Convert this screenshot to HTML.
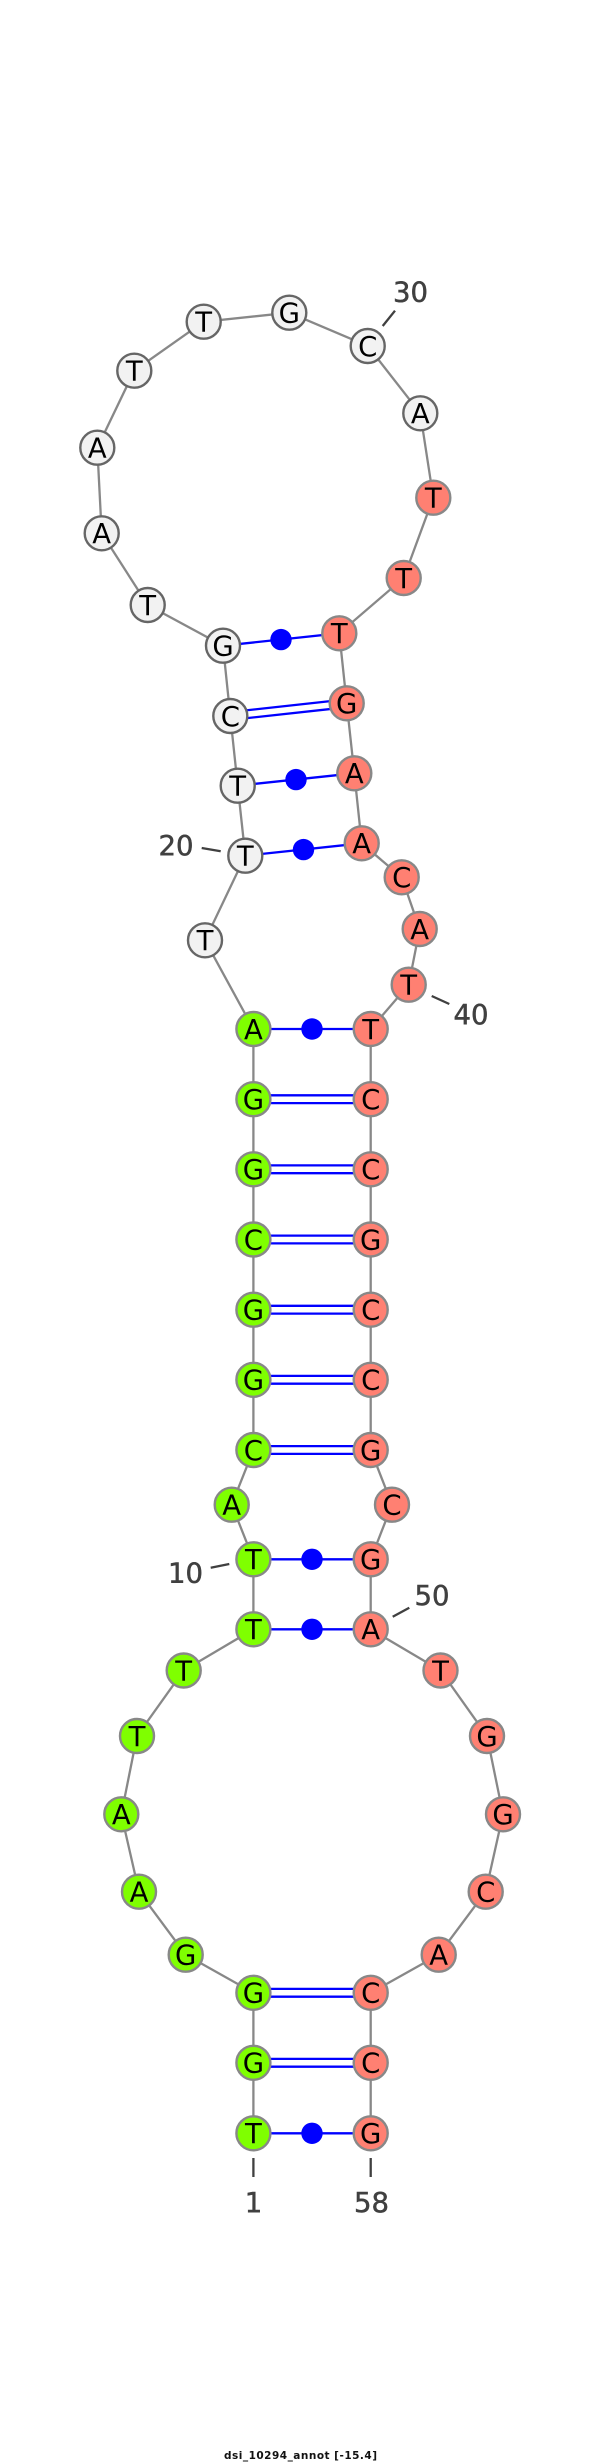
<!DOCTYPE html>
<html><head><meta charset="utf-8"><style>
html,body{margin:0;padding:0;background:#fff}
svg{display:block}
.n text{font-family:"DejaVu Sans",sans-serif;font-size:27.5px;text-anchor:middle;fill:#000;transform:translateY(1.5px)}
.l{font-family:"DejaVu Sans",sans-serif;font-size:27.5px;fill:#404040;stroke:#404040;stroke-width:.5px}
circle.w{fill:#f2f2f2;stroke:#666;stroke-width:2.4}
circle.g{fill:#7fff00;stroke:#888;stroke-width:2.4}
circle.r{fill:#ff8072;stroke:#888;stroke-width:2.4}
</style></head><body>
<svg xmlns="http://www.w3.org/2000/svg" width="600" height="2464" viewBox="0 0 600 2464">
<rect width="600" height="2464" fill="#fff"/>
<polyline fill="none" stroke="#888" stroke-width="2.3" points="253.4,2133.3 253.4,2062.8 253.4,1992.8 185.7,1954.7 139,1891.7 121.3,1814.3 137,1736 183.7,1670.5 253.4,1629.3 253.4,1559.3 231.7,1504.7 253.4,1450 253.4,1379.8 253.4,1309.7 253.4,1239.5 253.4,1169.3 253.4,1099.2 253.4,1029 205,940.3 245.3,855.7 237.7,785.7 230.3,716 223,645.7 147.7,605 101.7,533.3 97.3,447.7 134.3,370.7 203.7,321.7 289.3,312.7 367.7,346 420.3,413.3 433.3,497.7 403.7,578 339.3,633.3 346.7,703.3 354.3,773.3 361.7,843.3 401.7,877.3 419.7,929 408.7,984.7 370.7,1029 370.7,1099.2 370.7,1169.3 370.7,1239.5 370.7,1309.7 370.7,1379.8 370.7,1450 392,1504.7 370.7,1559.3 370.7,1629.3 440.5,1670.5 487,1736 503,1814.3 485.7,1891.7 438.7,1954.7 370.7,1992.8 370.7,2062.8 370.7,2133.3"/>
<g stroke="#0000ff" stroke-width="2.3" fill="none">
<line x1="253.4" y1="2133.3" x2="370.7" y2="2133.3"/>
<line x1="253.4" y1="2058.9" x2="370.7" y2="2058.9"/><line x1="253.4" y1="2066.7" x2="370.7" y2="2066.7"/>
<line x1="253.4" y1="1988.9" x2="370.7" y2="1988.9"/><line x1="253.4" y1="1996.7" x2="370.7" y2="1996.7"/>
<line x1="253.4" y1="1629.3" x2="370.7" y2="1629.3"/>
<line x1="253.4" y1="1559.3" x2="370.7" y2="1559.3"/>
<line x1="253.4" y1="1446.1" x2="370.7" y2="1446.1"/><line x1="253.4" y1="1453.9" x2="370.7" y2="1453.9"/>
<line x1="253.4" y1="1375.9" x2="370.7" y2="1375.9"/><line x1="253.4" y1="1383.7" x2="370.7" y2="1383.7"/>
<line x1="253.4" y1="1305.8" x2="370.7" y2="1305.8"/><line x1="253.4" y1="1313.6" x2="370.7" y2="1313.6"/>
<line x1="253.4" y1="1235.6" x2="370.7" y2="1235.6"/><line x1="253.4" y1="1243.4" x2="370.7" y2="1243.4"/>
<line x1="253.4" y1="1165.4" x2="370.7" y2="1165.4"/><line x1="253.4" y1="1173.2" x2="370.7" y2="1173.2"/>
<line x1="253.4" y1="1095.3" x2="370.7" y2="1095.3"/><line x1="253.4" y1="1103.1" x2="370.7" y2="1103.1"/>
<line x1="253.4" y1="1029" x2="370.7" y2="1029"/>
<line x1="245.3" y1="855.7" x2="361.7" y2="843.3"/>
<line x1="237.7" y1="785.7" x2="354.3" y2="773.3"/>
<line x1="229.9" y1="712.1" x2="346.3" y2="699.4"/><line x1="230.7" y1="719.9" x2="347.1" y2="707.2"/>
<line x1="223" y1="645.7" x2="339.3" y2="633.3"/>
</g>
<g fill="#0000ff">
<circle cx="312" cy="2133.3" r="10.7"/><circle cx="312" cy="1629.3" r="10.7"/><circle cx="312" cy="1559.3" r="10.7"/><circle cx="312" cy="1029" r="10.7"/><circle cx="303.5" cy="849.6" r="10.7"/><circle cx="296" cy="779.6" r="10.7"/><circle cx="281" cy="639.6" r="10.7"/>
</g>
<g class="n">
<circle class="g" cx="253.4" cy="2133.3" r="17"/><text x="253.4" y="2141.6">T</text>
<circle class="g" cx="253.4" cy="2062.8" r="17"/><text x="253.4" y="2071.1">G</text>
<circle class="g" cx="253.4" cy="1992.8" r="17"/><text x="253.4" y="2001.1">G</text>
<circle class="g" cx="185.7" cy="1954.7" r="17"/><text x="185.7" y="1963">G</text>
<circle class="g" cx="139" cy="1891.7" r="17"/><text x="139" y="1900">A</text>
<circle class="g" cx="121.3" cy="1814.3" r="17"/><text x="121.3" y="1822.6">A</text>
<circle class="g" cx="137" cy="1736" r="17"/><text x="137" y="1744.3">T</text>
<circle class="g" cx="183.7" cy="1670.5" r="17"/><text x="183.7" y="1678.8">T</text>
<circle class="g" cx="253.4" cy="1629.3" r="17"/><text x="253.4" y="1637.6">T</text>
<circle class="g" cx="253.4" cy="1559.3" r="17"/><text x="253.4" y="1567.6">T</text>
<circle class="g" cx="231.7" cy="1504.7" r="17"/><text x="231.7" y="1513">A</text>
<circle class="g" cx="253.4" cy="1450" r="17"/><text x="253.4" y="1458.3">C</text>
<circle class="g" cx="253.4" cy="1379.8" r="17"/><text x="253.4" y="1388.1">G</text>
<circle class="g" cx="253.4" cy="1309.7" r="17"/><text x="253.4" y="1318">G</text>
<circle class="g" cx="253.4" cy="1239.5" r="17"/><text x="253.4" y="1247.8">C</text>
<circle class="g" cx="253.4" cy="1169.3" r="17"/><text x="253.4" y="1177.6">G</text>
<circle class="g" cx="253.4" cy="1099.2" r="17"/><text x="253.4" y="1107.5">G</text>
<circle class="g" cx="253.4" cy="1029" r="17"/><text x="253.4" y="1037.3">A</text>
<circle class="w" cx="205" cy="940.3" r="17"/><text x="205" y="948.6">T</text>
<circle class="w" cx="245.3" cy="855.7" r="17"/><text x="245.3" y="864">T</text>
<circle class="w" cx="237.7" cy="785.7" r="17"/><text x="237.7" y="794">T</text>
<circle class="w" cx="230.3" cy="716" r="17"/><text x="230.3" y="724.3">C</text>
<circle class="w" cx="223" cy="645.7" r="17"/><text x="223" y="654">G</text>
<circle class="w" cx="147.7" cy="605" r="17"/><text x="147.7" y="613.3">T</text>
<circle class="w" cx="101.7" cy="533.3" r="17"/><text x="101.7" y="541.6">A</text>
<circle class="w" cx="97.3" cy="447.7" r="17"/><text x="97.3" y="456">A</text>
<circle class="w" cx="134.3" cy="370.7" r="17"/><text x="134.3" y="379">T</text>
<circle class="w" cx="203.7" cy="321.7" r="17"/><text x="203.7" y="330">T</text>
<circle class="w" cx="289.3" cy="312.7" r="17"/><text x="289.3" y="321">G</text>
<circle class="w" cx="367.7" cy="346" r="17"/><text x="367.7" y="354.3">C</text>
<circle class="w" cx="420.3" cy="413.3" r="17"/><text x="420.3" y="421.6">A</text>
<circle class="r" cx="433.3" cy="497.7" r="17"/><text x="433.3" y="506">T</text>
<circle class="r" cx="403.7" cy="578" r="17"/><text x="403.7" y="586.3">T</text>
<circle class="r" cx="339.3" cy="633.3" r="17"/><text x="339.3" y="641.6">T</text>
<circle class="r" cx="346.7" cy="703.3" r="17"/><text x="346.7" y="711.6">G</text>
<circle class="r" cx="354.3" cy="773.3" r="17"/><text x="354.3" y="781.6">A</text>
<circle class="r" cx="361.7" cy="843.3" r="17"/><text x="361.7" y="851.6">A</text>
<circle class="r" cx="401.7" cy="877.3" r="17"/><text x="401.7" y="885.6">C</text>
<circle class="r" cx="419.7" cy="929" r="17"/><text x="419.7" y="937.3">A</text>
<circle class="r" cx="408.7" cy="984.7" r="17"/><text x="408.7" y="993">T</text>
<circle class="r" cx="370.7" cy="1029" r="17"/><text x="370.7" y="1037.3">T</text>
<circle class="r" cx="370.7" cy="1099.2" r="17"/><text x="370.7" y="1107.5">C</text>
<circle class="r" cx="370.7" cy="1169.3" r="17"/><text x="370.7" y="1177.6">C</text>
<circle class="r" cx="370.7" cy="1239.5" r="17"/><text x="370.7" y="1247.8">G</text>
<circle class="r" cx="370.7" cy="1309.7" r="17"/><text x="370.7" y="1318">C</text>
<circle class="r" cx="370.7" cy="1379.8" r="17"/><text x="370.7" y="1388.1">C</text>
<circle class="r" cx="370.7" cy="1450" r="17"/><text x="370.7" y="1458.3">G</text>
<circle class="r" cx="392" cy="1504.7" r="17"/><text x="392" y="1513">C</text>
<circle class="r" cx="370.7" cy="1559.3" r="17"/><text x="370.7" y="1567.6">G</text>
<circle class="r" cx="370.7" cy="1629.3" r="17"/><text x="370.7" y="1637.6">A</text>
<circle class="r" cx="440.5" cy="1670.5" r="17"/><text x="440.5" y="1678.8">T</text>
<circle class="r" cx="487" cy="1736" r="17"/><text x="487" y="1744.3">G</text>
<circle class="r" cx="503" cy="1814.3" r="17"/><text x="503" y="1822.6">G</text>
<circle class="r" cx="485.7" cy="1891.7" r="17"/><text x="485.7" y="1900">C</text>
<circle class="r" cx="438.7" cy="1954.7" r="17"/><text x="438.7" y="1963">A</text>
<circle class="r" cx="370.7" cy="1992.8" r="17"/><text x="370.7" y="2001.1">C</text>
<circle class="r" cx="370.7" cy="2062.8" r="17"/><text x="370.7" y="2071.1">C</text>
<circle class="r" cx="370.7" cy="2133.3" r="17"/><text x="370.7" y="2141.6">G</text>
</g>
<g stroke="#404040" stroke-width="2.3" fill="none">
<line x1="395" y1="310.7" x2="382.7" y2="326"/>
<line x1="201.7" y1="848" x2="220.7" y2="851.3"/>
<line x1="431.7" y1="996" x2="449.3" y2="1004"/>
<line x1="210.7" y1="1567.7" x2="229.3" y2="1564"/>
<line x1="392.7" y1="1616.7" x2="409.3" y2="1607.7"/>
<line x1="253.4" y1="2158" x2="253.4" y2="2177"/>
<line x1="370.7" y1="2158" x2="370.7" y2="2177"/>
</g>
<text class="l" x="393" y="301.7">30</text>
<text class="l" x="158.5" y="855">20</text>
<text class="l" x="453.5" y="1024">40</text>
<text class="l" x="168" y="1582.3">10</text>
<text class="l" x="414.5" y="1605">50</text>
<text class="l" x="253.5" y="2212" text-anchor="middle">1</text>
<text class="l" x="371.5" y="2212" text-anchor="middle">58</text>
<text x="224" y="2459" textLength="153" lengthAdjust="spacing" font-family="'DejaVu Sans',sans-serif" font-weight="bold" font-size="10.5px" fill="#111">dsi_10294_annot [-15.4]</text>
</svg>
</body></html>
